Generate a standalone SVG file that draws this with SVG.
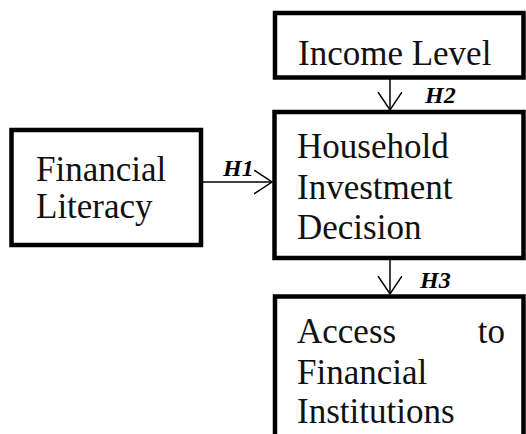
<svg xmlns="http://www.w3.org/2000/svg" width="526" height="434" viewBox="0 0 526 434">
  <style>
    .box { fill: #ffffff; stroke: #000000; stroke-width: 4.5; }
    .t { font-family: "Liberation Serif", "Times New Roman", serif; font-size: 35px; fill: #111111; }
    .h { font-family: "Liberation Serif", "Times New Roman", serif; font-size: 24px; font-weight: bold; font-style: italic; fill: #000000; }
    .c { stroke: #000000; stroke-width: 1.5; fill: none; }
  </style>
  <defs>
    <marker id="arr" markerUnits="userSpaceOnUse" markerWidth="24" markerHeight="28" refX="18" refY="12" orient="auto" viewBox="0 0 24 28">
      <path d="M0,0 L18,12 L0,24" fill="none" stroke="#000000" stroke-width="1.5"/>
    </marker>
  </defs>
  <rect width="526" height="434" fill="#ffffff"/>

  <g id="income-level">
    <rect class="box" x="275" y="13" width="248.5" height="64.5"/>
    <text class="t" x="298" y="65">Income Level</text>
  </g>

  <g id="financial-literacy">
    <rect class="box" x="11.5" y="130" width="189.5" height="115"/>
    <text class="t" x="36" y="181">Financial</text>
    <text class="t" x="36" y="218">Literacy</text>
  </g>

  <g id="household-investment-decision">
    <rect class="box" x="274.5" y="112" width="249" height="146"/>
    <text class="t" x="297" y="158">Household</text>
    <text class="t" x="297" y="199">Investment</text>
    <text class="t" x="297" y="239">Decision</text>
  </g>

  <g id="access-to-financial-institutions">
    <rect class="box" x="275" y="296.5" width="248.5" height="200"/>
    <text class="t" x="297" y="343">Access</text>
    <text class="t" x="505" y="343" text-anchor="end">to</text>
    <text class="t" x="297" y="384">Financial</text>
    <text class="t" x="297" y="423">Institutions</text>
  </g>

  <g id="connectors">
    <line class="c" x1="201" y1="182" x2="272" y2="182" marker-end="url(#arr)"/>
    <text class="h" x="223" y="176">H1</text>
    <line class="c" x1="390" y1="79" x2="390" y2="110" marker-end="url(#arr)"/>
    <text class="h" x="425" y="103">H2</text>
    <line class="c" x1="390" y1="260" x2="390" y2="294" marker-end="url(#arr)"/>
    <text class="h" x="420" y="288">H3</text>
  </g>
</svg>
